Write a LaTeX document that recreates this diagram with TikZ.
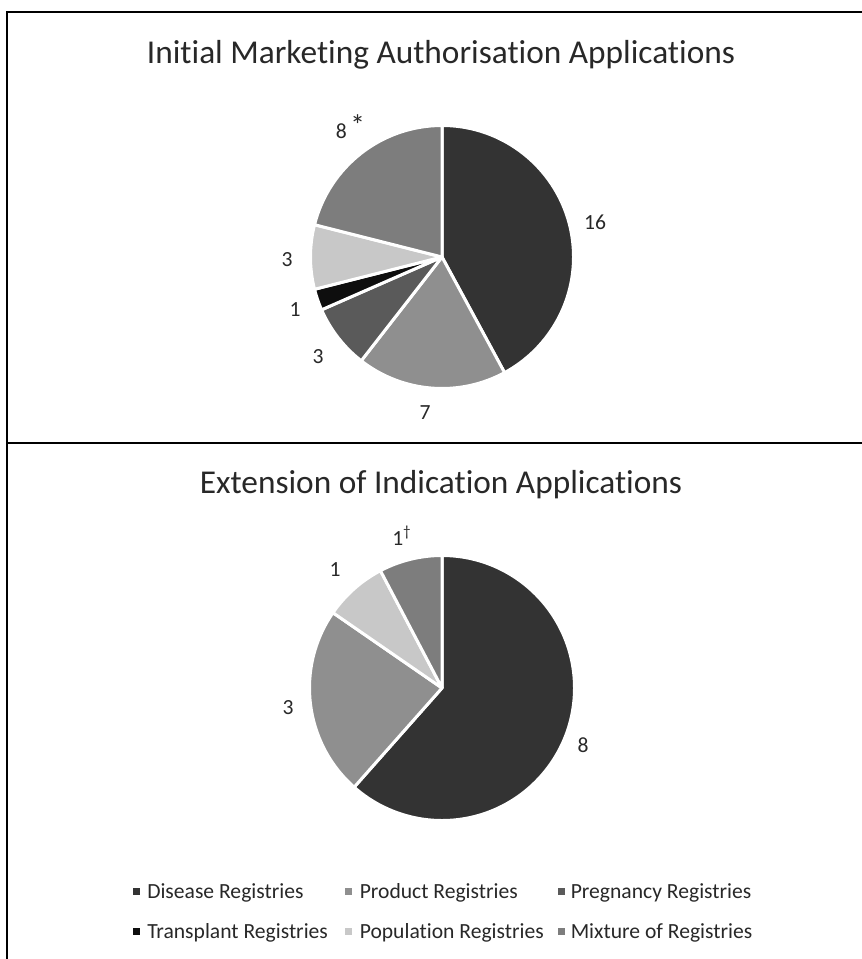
\documentclass[tikz,border=0pt]{standalone}
\usepackage{fontspec}
\setmainfont{Carlito}[Ligatures=NoCommon]
\usepackage{tikz}

\definecolor{disease}{RGB}{51,51,51}
\definecolor{product}{RGB}{143,143,143}
\definecolor{pregnancy}{RGB}{90,90,90}
\definecolor{transplant}{RGB}{14,14,14}
\definecolor{population}{RGB}{200,200,200}
\definecolor{mixture}{RGB}{125,125,125}
\definecolor{inktext}{RGB}{40,40,40}

\tikzset{
	slice/.style={draw=white, line width=2.25pt, line join=round},
	frameline/.style={draw=black, line width=2pt},
	charttitle/.style={text=inktext, inner sep=0pt, anchor=base, font=\fontsize{25}{30}\selectfont},
	slicelabel/.style={text=inktext, inner sep=0pt, font=\fontsize{16.2}{19}\selectfont},
	legsq/.style={inner sep=0pt, minimum size=5.2pt},
	legtxt/.style={text=inktext, inner sep=0pt, anchor=base west, font=\fontsize{16.2}{19}\selectfont},
}

\begin{document}
\begin{tikzpicture}[x=0.75pt,y=0.75pt,yscale=-1,xscale=1]
		\useasboundingbox (0,0) rectangle (862,959);
		
		%frame and divider
		\draw [frameline] (7,962) -- (7,12) -- (865,12) ;
		\draw [frameline] (7,443) -- (865,443) ;
		
		%initial marketing authorisation applications
		\coordinate (pieA) at (442,257) ;
		\path [slice, fill=disease] (pieA) -- ++(-90:131.5) arc [start angle=-90, end angle=61.58, radius=131.5] -- cycle ;
		\path [slice, fill=product] (pieA) -- ++(61.58:131.5) arc [start angle=61.58, end angle=127.89, radius=131.5] -- cycle ;
		\path [slice, fill=pregnancy] (pieA) -- ++(127.89:131.5) arc [start angle=127.89, end angle=156.32, radius=131.5] -- cycle ;
		\path [slice, fill=transplant] (pieA) -- ++(156.32:131.5) arc [start angle=156.32, end angle=165.79, radius=131.5] -- cycle ;
		\path [slice, fill=population] (pieA) -- ++(165.79:131.5) arc [start angle=165.79, end angle=194.21, radius=131.5] -- cycle ;
		\path [slice, fill=mixture] (pieA) -- ++(194.21:131.5) arc [start angle=194.21, end angle=270, radius=131.5] -- cycle ;
		
		\node [charttitle] (titleA) at (441,63.3) {Initial Marketing Authorisation Applications};
		\node [slicelabel] (lblA16) at (595,222) {16};
		\node [slicelabel] (lblA7) at (425,413) {7};
		\node [slicelabel] (lblA3preg) at (318,357) {3};
		\node [slicelabel] (lblA1) at (295,310) {1};
		\node [slicelabel] (lblA3pop) at (287,260) {3};
		\node [slicelabel, anchor=base west] (lblA8) at (335.5,138.3) {8\,\raisebox{.12em}{\fontsize{22}{22}\selectfont *}};
		
		%extension of indication applications
		\coordinate (pieB) at (442,688) ;
		\path [slice, fill=disease] (pieB) -- ++(-90:132.5) arc [start angle=-90, end angle=131.54, radius=132.5] -- cycle ;
		\path [slice, fill=product] (pieB) -- ++(131.54:132.5) arc [start angle=131.54, end angle=214.62, radius=132.5] -- cycle ;
		\path [slice, fill=population] (pieB) -- ++(214.62:132.5) arc [start angle=214.62, end angle=242.31, radius=132.5] -- cycle ;
		\path [slice, fill=mixture] (pieB) -- ++(242.31:132.5) arc [start angle=242.31, end angle=270, radius=132.5] -- cycle ;
		
		\node [charttitle] (titleB) at (441,493.3) {Extension of Indication Applications};
		\node [slicelabel] (lblB8) at (583,745) {8};
		\node [slicelabel] (lblB3) at (288,708) {3};
		\node [slicelabel] (lblB1pop) at (335,570) {1};
		\node [slicelabel, anchor=base west] (lblB1mix) at (392,545) {1\textsuperscript{\textdagger}};
		
		%legend
		\node [legsq, fill=disease] (sqDis) at (136.5,891.7) {};
		\node [legtxt] (txtDis) at (147,898.3) {Disease Registries};
		\node [legsq, fill=product] (sqProd) at (348.5,891.7) {};
		\node [legtxt] (txtProd) at (359.5,898.3) {Product Registries};
		\node [legsq, fill=pregnancy] (sqPreg) at (561.5,891.7) {};
		\node [legtxt] (txtPreg) at (570.5,898.3) {Pregnancy Registries};
		\node [legsq, fill=transplant] (sqTrans) at (136.5,931.7) {};
		\node [legtxt] (txtTrans) at (147,938.3) {Transplant Registries};
		\node [legsq, fill=population] (sqPop) at (348.5,931.7) {};
		\node [legtxt] (txtPop) at (359.5,938.3) {Population Registries};
		\node [legsq, fill=mixture] (sqMix) at (561.5,931.7) {};
		\node [legtxt] (txtMix) at (570.5,938.3) {Mixture of Registries};
		
		
\end{tikzpicture}
\end{document}
